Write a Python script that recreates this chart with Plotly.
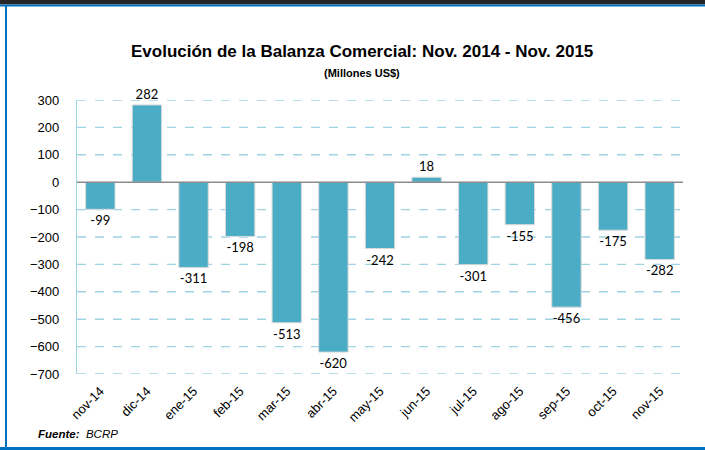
import plotly.graph_objects as go

categories = ["nov-14", "dic-14", "ene-15", "feb-15", "mar-15", "abr-15", "may-15",
              "jun-15", "jul-15", "ago-15", "sep-15", "oct-15", "nov-15"]
values = [-99, 282, -311, -198, -513, -620, -242, 18, -301, -155, -456, -175, -282]
y_ticks = [300, 200, 100, 0, -100, -200, -300, -400, -500, -600, -700]

W, H = 705, 450
L, R, T, B = 77, 22, 100, 76
pw, ph = W - L - R, H - T - B

def px(x):
    return (x - L) / pw

def py(y):
    return 1 - (y - T) / ph

fig = go.Figure()
fig.add_trace(go.Bar(
    x=categories, y=values,
    marker=dict(color="#4BACC6", line=dict(color="#d9d9d9", width=1)),
    text=[str(v) for v in values], textposition="outside",
    textfont=dict(family="Lato, Open Sans, sans-serif", size=13, color="#000"),
    cliponaxis=False,
))

shapes = [
    *[dict(type="line", xref="paper", yref="y", x0=0, x1=1, y0=v, y1=v,
           line=dict(color="#9FD4E4", width=1.4, dash="dash"), layer="below")
      for v in y_ticks if v != 0],
    dict(type="line", xref="paper", yref="y", x0=0, x1=1, y0=0, y1=0,
         line=dict(color="#8c8c8c", width=1.5), layer="above"),
    dict(type="rect", xref="paper", yref="paper", x0=px(0), x1=px(W), y0=py(0), y1=py(4.5),
         fillcolor="#262626", line=dict(width=0), layer="above"),
    dict(type="rect", xref="paper", yref="paper", x0=px(0), x1=px(W), y0=py(4.5), y1=py(6.5),
         fillcolor="#0070C0", line=dict(width=0), layer="above"),
    dict(type="rect", xref="paper", yref="paper", x0=px(5), x1=px(7), y0=py(6), y1=py(450),
         fillcolor="#0070C0", line=dict(width=0), layer="above"),
    dict(type="rect", xref="paper", yref="paper", x0=px(0), x1=px(W), y0=py(447), y1=py(450),
         fillcolor="#0070C0", line=dict(width=0), layer="above"),
]

annotations = [
    dict(text="<b>Evolución de la Balanza Comercial: Nov. 2014 - Nov. 2015</b>",
         xref="paper", yref="paper", x=px(362), y=py(51), showarrow=False,
         xanchor="center", yanchor="middle",
         font=dict(family="Liberation Sans, Arial", size=17, color="#000")),
    dict(text="<b>(Millones US$)</b>",
         xref="paper", yref="paper", x=px(362), y=py(73), showarrow=False,
         xanchor="center", yanchor="middle",
         font=dict(family="Liberation Sans, Arial", size=11, color="#000")),
    dict(text="<b><i>Fuente:</i></b>  <i>BCRP</i>",
         xref="paper", yref="paper", x=px(36), y=py(434), showarrow=False,
         xanchor="left", yanchor="middle",
         font=dict(family="Liberation Sans, Arial", size=11.5, color="#000")),
]

fig.update_layout(
    width=W, height=H,
    margin=dict(l=L, r=R, t=T, b=B),
    paper_bgcolor="white", plot_bgcolor="white",
    showlegend=False, bargap=0.37,
    shapes=shapes, annotations=annotations,
    font=dict(family="Liberation Sans, Arial", size=12, color="#000"),
)
fig.update_xaxes(
    tickangle=-45, showgrid=False, showline=False, ticks="", automargin=False,
    ticklabelstandoff=6,
    tickfont=dict(family="Liberation Sans, Arial", size=13, color="#000"),
)
fig.update_yaxes(
    range=[-700, 300], tickvals=y_ticks, showgrid=False, zeroline=False,
    showline=True, linecolor="#9FD4E4", linewidth=1.4, ticks="", automargin=False,
    ticklabelstandoff=14,
    tickfont=dict(family="Liberation Sans, Arial", size=13, color="#000"),
)

fig.write_html("out.html", config={"displayModeBar": False},
               post_script="document.body.style.margin='0';document.body.style.overflow='hidden';")
